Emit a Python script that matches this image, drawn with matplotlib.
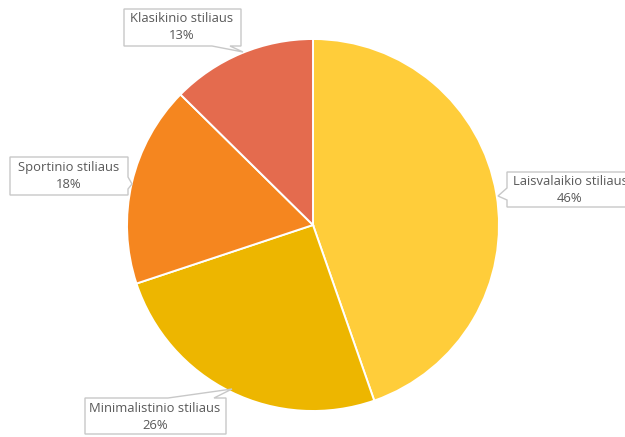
import matplotlib
matplotlib.use("Agg")
import matplotlib.pyplot as plt
from matplotlib.patches import Polygon

categories = ["Laisvalaikio stiliaus", "Minimalistinio stiliaus",
              "Sportinio stiliaus", "Klasikinio stiliaus"]
values = [46, 26, 18, 13]
colors = ["#FFCD3A", "#EDB600", "#F5861F", "#E46B4E"]

W, H = 625, 437
fig = plt.figure(figsize=(W / 100, H / 100), dpi=100)
ax = fig.add_axes([0, 0, 1, 1])

cx, cy, r = 313, 225, 186


def fy(y):
    # pixel row (top-down) -> data y (bottom-up)
    return H - y


ax.pie(values, colors=colors, startangle=90, counterclock=False,
       center=(cx, fy(cy)), radius=r,
       wedgeprops=dict(edgecolor="white", linewidth=1.4))
ax.set_xlim(0, W)
ax.set_ylim(0, H)
ax.set_aspect("equal")
ax.axis("off")

# callout layout: box (x0, y0, x1, y1), pointer outline points, text centre
callouts = {
    "Klasikinio stiliaus": dict(box=(124, 9, 241, 46),
                                ptr=("bottom", 212, 230, (243, 52)),
                                tc=(182, 27)),
    "Sportinio stiliaus": dict(box=(10, 157, 128, 195),
                               ptr=("right", 177, 189, (132, 184)),
                               tc=(69, 176)),
    "Laisvalaikio stiliaus": dict(box=(507, 172, 640, 207),
                                  ptr=("left", 188, 200, (498, 196)),
                                  tc=(570, 190)),
    "Minimalistinio stiliaus": dict(box=(85, 398, 226, 434),
                                    ptr=("top", 168, 214, (232, 389)),
                                    tc=(155, 417)),
}


def callout_outline(box, ptr):
    x0, y0, x1, y1 = box
    side, a, b, tip = ptr
    if side == "bottom":
        pts = [(x0, y0), (x1, y0), (x1, y1), (b, y1), tip, (a, y1), (x0, y1)]
    elif side == "top":
        pts = [(x0, y0), (a, y0), tip, (b, y0), (x1, y0), (x1, y1), (x0, y1)]
    elif side == "right":
        pts = [(x0, y0), (x1, y0), (x1, a), tip, (x1, b), (x1, y1), (x0, y1)]
    else:
        pts = [(x0, y0), (x1, y0), (x1, y1), (x0, y1), (x0, b), tip, (x0, a)]
    return [(x, fy(y)) for x, y in pts]


for name, val in zip(categories, values):
    c = callouts[name]
    poly = Polygon(callout_outline(c["box"], c["ptr"]), closed=True,
                   facecolor="white", edgecolor="#C8C8C8", linewidth=1.0,
                   zorder=5)
    ax.add_patch(poly)
    tx, ty = c["tc"]
    ax.text(tx, fy(ty), f"{name}\n{val}%", ha="center", va="center",
            fontsize=9.4, color="#595959", family="Open Sans",
            linespacing=1.42, zorder=6)

fig.savefig("out.png", dpi=100, facecolor="white")
